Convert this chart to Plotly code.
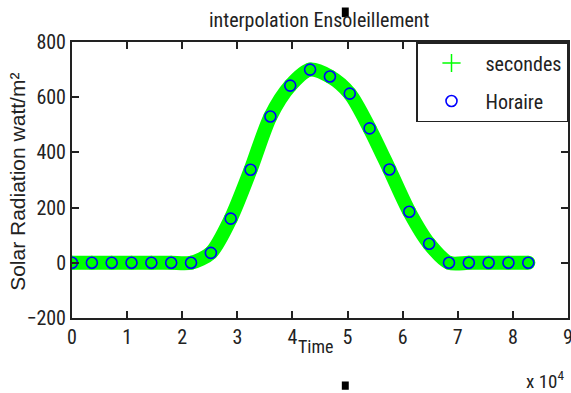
import plotly.graph_objects as go

# Hourly data (seconds since midnight) and solar radiation (W/m²)
hours_s = [h * 3600 for h in range(24)]
radiation = [0, 0, 0, 0, 0, 0, 0, 36, 160, 337, 530, 642, 700, 675, 613, 487,
             338, 185, 69, 0, 0, 0, 0, 0]

x_tickvals = [0, 10000, 20000, 30000, 40000, 50000, 60000, 70000, 80000, 90000]
x_ticktext = ["0", "1", "2", "3", "4", "5", "6", "7", "8", "9"]
y_tickvals = [-200, 0, 200, 400, 600, 800]

FONT = "Roboto Condensed, Liberation Sans, Arial, sans-serif"
INK = "#222222"
GREEN = "#00ff00"
BLUE = "#0000ff"

fig = go.Figure()

# interpolated "secondes" series drawn as a thick smooth band
fig.add_trace(go.Scatter(
    x=hours_s, y=radiation, mode="lines+markers",
    line=dict(color=GREEN, width=14, shape="spline", smoothing=0.8),
    marker=dict(symbol="circle", size=14, color=GREEN, line=dict(width=0)),
    showlegend=False, hoverinfo="skip",
))
# legend entry for the "secondes" series
fig.add_trace(go.Scatter(
    x=[None], y=[None], mode="markers", name="secondes",
    marker=dict(symbol="cross-thin", size=13, color=GREEN,
                line=dict(color=GREEN, width=1.5)),
    legendgroup="a",
))
# hourly samples
fig.add_trace(go.Scatter(
    x=hours_s, y=radiation, mode="markers", name="Horaire",
    marker=dict(symbol="circle-open", size=11, color=BLUE,
                line=dict(color=BLUE, width=1.6)),
    legendgroup="b",
))

axis_common = dict(
    showline=True, linecolor=INK, linewidth=2, mirror="ticks",
    ticks="inside", ticklen=7, tickwidth=1.5, tickcolor=INK,
    showgrid=False, zeroline=False, automargin=False,
    ticklabeloverflow="allow",
    tickfont=dict(family=FONT, size=20, color=INK),
)

fig.update_layout(
    width=571, height=393,
    margin=dict(l=72, r=3, t=42, b=75),
    paper_bgcolor="white", plot_bgcolor="white",
    font=dict(family=FONT, color=INK),
    title=dict(text="interpolation Ensoleillement", x=0.559, xanchor="center",
               y=0.948, yanchor="middle",
               font=dict(family=FONT, size=20, color=INK)),
    xaxis=dict(range=[0, 90000], tickvals=x_tickvals, ticktext=x_ticktext,
               **axis_common),
    yaxis=dict(range=[-200, 800], tickvals=y_tickvals, **axis_common),
    legend=dict(x=1, xanchor="right", y=1, yanchor="top",
                bordercolor=INK, borderwidth=1.5, bgcolor="white",
                font=dict(family=FONT, size=20, color=INK),
                traceorder="grouped", tracegroupgap=9, itemwidth=58),
    annotations=[
        dict(text="Solar Radiation watt/m²", xref="paper", yref="paper",
             x=-0.109, y=0.493, xanchor="center", yanchor="middle",
             textangle=-90, showarrow=False,
             font=dict(family="Liberation Sans, Arial, sans-serif", size=21,
                       color=INK)),
        dict(text="Time", xref="paper", yref="paper", x=0.492, y=-0.105,
             xanchor="center", yanchor="middle", showarrow=False,
             font=dict(family=FONT, size=18, color=INK)),
        dict(text="x 10<sup>4</sup>", xref="paper", yref="paper", x=0.996,
             y=-0.225, xanchor="right", yanchor="middle", showarrow=False,
             font=dict(family=FONT, size=19, color=INK)),
    ],
    shapes=[
        dict(type="rect", xref="paper", yref="paper", x0=0.544, x1=0.558,
             y0=1.09, y1=1.125, fillcolor="black", line=dict(width=0)),
        dict(type="rect", xref="paper", yref="paper", x0=0.544, x1=0.558,
             y0=-0.23, y1=-0.26, fillcolor="black", line=dict(width=0)),
    ],
)

fig.write_html("out.html")
